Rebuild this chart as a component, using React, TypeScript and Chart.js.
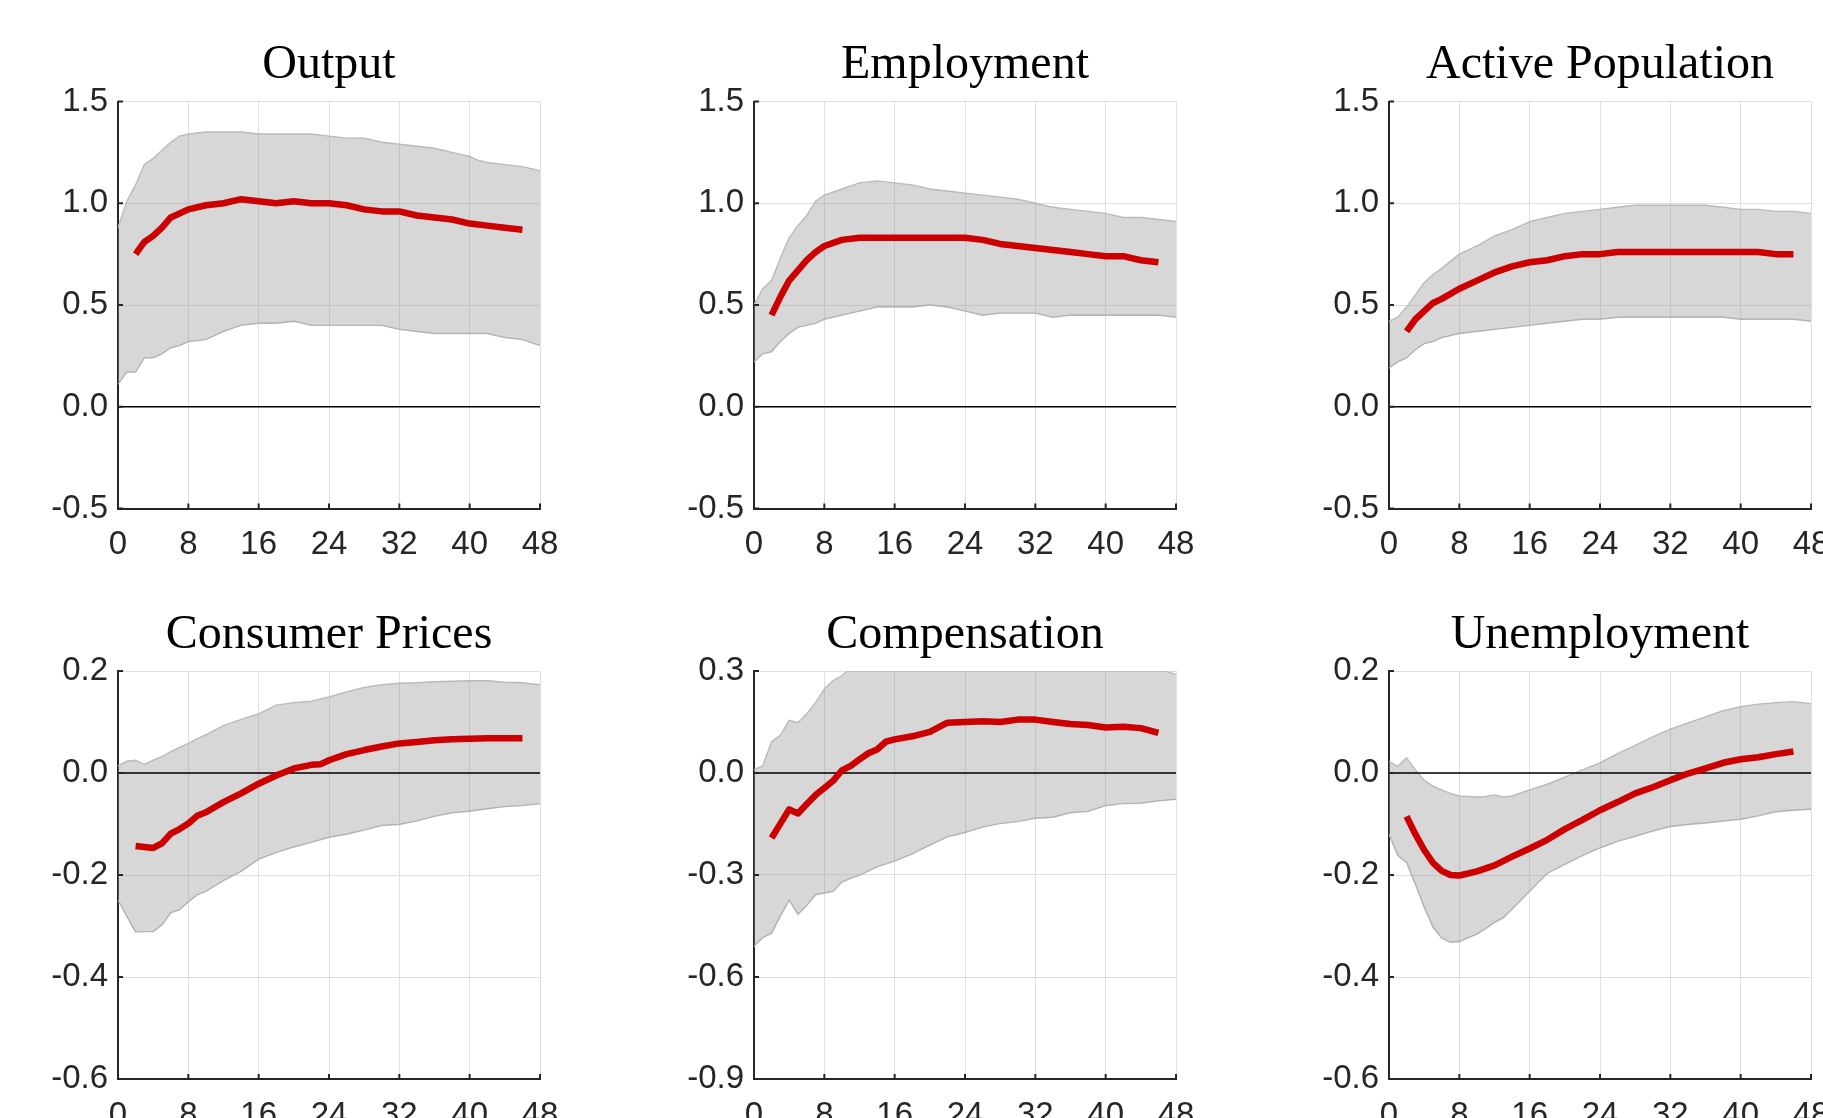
import React, { useEffect, useRef } from "react";
import { Chart, registerables } from "chart.js";

Chart.register(...registerables);

// ---------- Data ----------
const titles = ["Output", "Employment", "Active Population", "Consumer Prices", "Compensation", "Unemployment"];

const outputBandX = [0, 1, 2, 3, 4, 5, 6, 7, 8, 10, 12, 14, 16, 18, 20, 22, 24, 26, 28, 30, 32, 34, 36, 38, 40, 41, 42, 44, 46, 48];
const outputUpper = [0.88, 1.01, 1.09, 1.19, 1.22, 1.26, 1.30, 1.33, 1.34, 1.35, 1.35, 1.35, 1.34, 1.34, 1.34, 1.34, 1.33, 1.32, 1.32, 1.30, 1.29, 1.28, 1.27, 1.25, 1.23, 1.21, 1.20, 1.19, 1.18, 1.16];
const outputLower = [0.11, 0.17, 0.17, 0.24, 0.24, 0.26, 0.29, 0.30, 0.32, 0.33, 0.37, 0.40, 0.41, 0.41, 0.42, 0.40, 0.40, 0.40, 0.40, 0.40, 0.38, 0.37, 0.36, 0.36, 0.36, 0.36, 0.36, 0.34, 0.33, 0.30];
const outputLineX = [2, 3, 4, 5, 6, 8, 10, 12, 14, 16, 18, 20, 22, 24, 26, 28, 30, 32, 34, 36, 38, 40, 42, 44, 46];
const outputLine = [0.75, 0.81, 0.84, 0.88, 0.93, 0.97, 0.99, 1.00, 1.02, 1.01, 1.00, 1.01, 1.00, 1.00, 0.99, 0.97, 0.96, 0.96, 0.94, 0.93, 0.92, 0.90, 0.89, 0.88, 0.87];

const employmentBandX = [0, 1, 2, 3, 4, 5, 6, 7, 8, 10, 12, 14, 16, 18, 20, 22, 24, 26, 28, 30, 32, 34, 36, 38, 40, 42, 44, 46, 48];
const employmentUpper = [0.50, 0.58, 0.62, 0.73, 0.83, 0.89, 0.94, 1.01, 1.04, 1.07, 1.10, 1.11, 1.10, 1.09, 1.07, 1.06, 1.05, 1.04, 1.03, 1.02, 1.00, 0.98, 0.97, 0.96, 0.95, 0.93, 0.93, 0.92, 0.91];
const employmentLower = [0.22, 0.26, 0.27, 0.32, 0.36, 0.39, 0.40, 0.41, 0.43, 0.45, 0.47, 0.49, 0.49, 0.49, 0.50, 0.49, 0.47, 0.45, 0.46, 0.46, 0.46, 0.44, 0.45, 0.45, 0.45, 0.45, 0.45, 0.45, 0.44];
const employmentLineX = [2, 3, 4, 5, 6, 7, 8, 10, 12, 14, 16, 18, 20, 22, 24, 26, 28, 30, 32, 34, 36, 38, 40, 42, 44, 46];
const employmentLine = [0.45, 0.54, 0.62, 0.67, 0.72, 0.76, 0.79, 0.82, 0.83, 0.83, 0.83, 0.83, 0.83, 0.83, 0.83, 0.82, 0.80, 0.79, 0.78, 0.77, 0.76, 0.75, 0.74, 0.74, 0.72, 0.71];

const activeBandX = [0, 1, 2, 3, 4, 5, 6, 8, 10, 12, 14, 16, 18, 20, 22, 24, 26, 28, 30, 32, 34, 36, 38, 40, 42, 44, 46, 48];
const activeUpper = [0.42, 0.44, 0.49, 0.55, 0.61, 0.65, 0.68, 0.75, 0.79, 0.84, 0.87, 0.91, 0.93, 0.95, 0.96, 0.97, 0.98, 0.99, 0.99, 0.99, 0.99, 0.99, 0.98, 0.97, 0.97, 0.96, 0.96, 0.95];
const activeLower = [0.19, 0.22, 0.24, 0.28, 0.31, 0.32, 0.34, 0.36, 0.37, 0.38, 0.39, 0.40, 0.41, 0.42, 0.43, 0.43, 0.44, 0.44, 0.44, 0.44, 0.44, 0.44, 0.44, 0.43, 0.43, 0.43, 0.43, 0.42];
const activeLineX = [2, 3, 4, 5, 6, 8, 10, 12, 14, 16, 18, 20, 22, 24, 26, 28, 30, 32, 34, 36, 38, 40, 42, 44, 46];
const activeLine = [0.37, 0.43, 0.47, 0.51, 0.53, 0.58, 0.62, 0.66, 0.69, 0.71, 0.72, 0.74, 0.75, 0.75, 0.76, 0.76, 0.76, 0.76, 0.76, 0.76, 0.76, 0.76, 0.76, 0.75, 0.75];

const pricesBandX = [0, 1, 2, 3, 4, 5, 6, 7, 8, 9, 10, 12, 14, 16, 18, 20, 22, 24, 26, 28, 30, 32, 34, 36, 38, 40, 42, 44, 46, 48];
const pricesUpper = [0.014, 0.023, 0.025, 0.017, 0.025, 0.032, 0.042, 0.050, 0.058, 0.067, 0.075, 0.093, 0.105, 0.116, 0.133, 0.138, 0.141, 0.149, 0.159, 0.168, 0.173, 0.176, 0.177, 0.179, 0.180, 0.181, 0.181, 0.178, 0.177, 0.173];
const pricesLower = [-0.249, -0.281, -0.312, -0.311, -0.311, -0.298, -0.274, -0.268, -0.253, -0.239, -0.232, -0.211, -0.193, -0.169, -0.156, -0.145, -0.136, -0.126, -0.120, -0.112, -0.103, -0.101, -0.094, -0.085, -0.078, -0.075, -0.070, -0.066, -0.064, -0.060];
const pricesLineX = [2, 3, 4, 5, 6, 7, 8, 9, 10, 12, 14, 16, 18, 20, 22, 23, 24, 26, 28, 30, 32, 34, 36, 38, 40, 42, 44, 46];
const pricesLine = [-0.143, -0.145, -0.147, -0.138, -0.119, -0.110, -0.099, -0.084, -0.077, -0.057, -0.040, -0.021, -0.005, 0.009, 0.016, 0.017, 0.025, 0.037, 0.045, 0.052, 0.058, 0.061, 0.064, 0.066, 0.067, 0.068, 0.068, 0.068];

const compBandX = [0, 1, 2, 3, 4, 5, 6, 7, 8, 9, 10, 11, 12, 14, 16, 18, 20, 22, 24, 26, 28, 30, 32, 34, 36, 38, 40, 42, 44, 46, 48];
const compUpper = [0.010, 0.021, 0.092, 0.111, 0.155, 0.148, 0.174, 0.207, 0.247, 0.272, 0.286, 0.31, 0.33, 0.36, 0.38, 0.40, 0.41, 0.41, 0.41, 0.40, 0.40, 0.39, 0.38, 0.37, 0.36, 0.35, 0.34, 0.33, 0.32, 0.305, 0.29];
const compLower = [-0.510, -0.484, -0.471, -0.421, -0.374, -0.416, -0.390, -0.358, -0.353, -0.348, -0.321, -0.310, -0.301, -0.276, -0.259, -0.238, -0.212, -0.188, -0.175, -0.159, -0.149, -0.143, -0.133, -0.130, -0.117, -0.113, -0.096, -0.090, -0.089, -0.082, -0.077];
const compLineX = [2, 3, 4, 5, 6, 7, 8, 9, 10, 11, 12, 13, 14, 15, 16, 18, 20, 22, 24, 26, 28, 30, 32, 34, 36, 38, 40, 42, 44, 46];
const compLine = [-0.191, -0.149, -0.107, -0.119, -0.091, -0.065, -0.044, -0.023, 0.008, 0.021, 0.040, 0.058, 0.069, 0.092, 0.099, 0.108, 0.121, 0.148, 0.150, 0.152, 0.150, 0.157, 0.157, 0.150, 0.144, 0.141, 0.134, 0.136, 0.132, 0.118];

const unempBandX = [0, 1, 2, 3, 4, 5, 6, 7, 8, 9, 10, 11, 12, 13, 14, 16, 18, 20, 22, 24, 26, 28, 30, 32, 34, 36, 38, 40, 42, 44, 46, 48];
const unempUpper = [0.023, 0.013, 0.030, 0.006, -0.014, -0.026, -0.033, -0.040, -0.045, -0.046, -0.047, -0.046, -0.043, -0.047, -0.045, -0.033, -0.022, -0.008, 0.006, 0.020, 0.038, 0.054, 0.071, 0.086, 0.098, 0.110, 0.122, 0.130, 0.135, 0.138, 0.140, 0.136];
const unempLower = [-0.120, -0.162, -0.176, -0.218, -0.263, -0.302, -0.324, -0.332, -0.331, -0.323, -0.316, -0.305, -0.293, -0.284, -0.267, -0.232, -0.197, -0.179, -0.162, -0.147, -0.134, -0.124, -0.114, -0.105, -0.101, -0.098, -0.094, -0.091, -0.084, -0.076, -0.073, -0.071];
const unempLineX = [2, 3, 4, 5, 6, 7, 8, 9, 10, 12, 14, 16, 18, 20, 22, 24, 26, 28, 30, 32, 34, 36, 38, 40, 42, 44, 46];
const unempLine = [-0.085, -0.120, -0.151, -0.176, -0.192, -0.200, -0.201, -0.197, -0.193, -0.181, -0.164, -0.148, -0.131, -0.110, -0.092, -0.073, -0.057, -0.040, -0.028, -0.014, -0.001, 0.009, 0.020, 0.027, 0.031, 0.037, 0.042];

const topRowYRange = [-0.5, 1.5, 0.5];
const pricesYRange = [-0.6, 0.2, 0.2];
const compYRange = [-0.9, 0.3, 0.3];
const unempYRange = [-0.6, 0.2, 0.2];
const xRange = [0, 48, 8];

// ---------- Layout (styles only) ----------
const COL_LEFT = [0, 636, 1271];
const Y_AXIS_W = 118;
const PLOT_W = 422;
const CANVAS_W = 580;
const ROWS = [
  { top: 0, height: 560, padTop: 101.5, plotH: 407 },
  { top: 560, height: 558, padTop: 111, plotH: 408 },
];

const TICK_FONT = '"Liberation Sans", Arial, Helvetica, sans-serif';
const TITLE_FONT = '"Liberation Serif", "Times New Roman", serif';
const AXIS_COLOR = "#262626";

type PanelDef = {
  title: string;
  bandX: number[];
  upper: number[];
  lower: number[];
  lineX: number[];
  line: number[];
  yRange: number[];
  col: number;
  row: number;
};

const panels: PanelDef[] = [
  { title: titles[0], bandX: outputBandX, upper: outputUpper, lower: outputLower, lineX: outputLineX, line: outputLine, yRange: topRowYRange, col: 0, row: 0 },
  { title: titles[1], bandX: employmentBandX, upper: employmentUpper, lower: employmentLower, lineX: employmentLineX, line: employmentLine, yRange: topRowYRange, col: 1, row: 0 },
  { title: titles[2], bandX: activeBandX, upper: activeUpper, lower: activeLower, lineX: activeLineX, line: activeLine, yRange: topRowYRange, col: 2, row: 0 },
  { title: titles[3], bandX: pricesBandX, upper: pricesUpper, lower: pricesLower, lineX: pricesLineX, line: pricesLine, yRange: pricesYRange, col: 0, row: 1 },
  { title: titles[4], bandX: compBandX, upper: compUpper, lower: compLower, lineX: compLineX, line: compLine, yRange: compYRange, col: 1, row: 1 },
  { title: titles[5], bandX: unempBandX, upper: unempUpper, lower: unempLower, lineX: unempLineX, line: unempLine, yRange: unempYRange, col: 2, row: 1 },
];

const toPts = (xs: number[], ys: number[]) => xs.map((x, i) => ({ x, y: ys[i] }));

function Panel({ def }: { def: PanelDef }) {
  const ref = useRef<HTMLCanvasElement | null>(null);
  const row = ROWS[def.row];
  const xAxisH = row.height - row.padTop - row.plotH;

  useEffect(() => {
    if (!ref.current) return;
    const titlePlugin = {
      id: "panelTitle",
      afterDraw(chart: any) {
        const { ctx, chartArea } = chart;
        ctx.save();
        ctx.fillStyle = "#000";
        ctx.font = `48px ${TITLE_FONT}`;
        ctx.textAlign = "center";
        ctx.textBaseline = "alphabetic";
        ctx.fillText(def.title, (chartArea.left + chartArea.right) / 2, chartArea.top - 23.5);
        ctx.restore();
      },
    };
    const inwardTicks = {
      id: "inwardTicks",
      afterDraw(chart: any) {
        const { ctx, chartArea, scales } = chart;
        ctx.save();
        ctx.strokeStyle = AXIS_COLOR;
        ctx.lineWidth = 2;
        ctx.beginPath();
        scales.x.ticks.forEach((t: any) => {
          const px = scales.x.getPixelForValue(t.value);
          ctx.moveTo(px, chartArea.bottom);
          ctx.lineTo(px, chartArea.bottom - 5);
        });
        scales.y.ticks.forEach((t: any) => {
          const py = scales.y.getPixelForValue(t.value);
          ctx.moveTo(chartArea.left, py);
          ctx.lineTo(chartArea.left + 5, py);
        });
        ctx.stroke();
        ctx.restore();
      },
    };

    const chart = new Chart(ref.current, {
      type: "line",
      data: {
        datasets: [
          {
            data: toPts(def.lineX, def.line),
            borderColor: "#cc0000",
            borderWidth: 6.5,
            pointRadius: 0,
            fill: false,
            tension: 0,
            borderJoinStyle: "round",
          },
          {
            data: [
              { x: xRange[0], y: 0 },
              { x: xRange[1], y: 0 },
            ],
            borderColor: "#000000",
            borderWidth: 1.6,
            pointRadius: 0,
            fill: false,
          },
          {
            data: toPts(def.bandX, def.upper),
            borderColor: "#bababa",
            borderWidth: 1.4,
            pointRadius: 0,
            backgroundColor: "rgba(150,150,150,0.38)",
            fill: "+1",
            tension: 0,
          },
          {
            data: toPts(def.bandX, def.lower),
            borderColor: "#bababa",
            borderWidth: 1.4,
            pointRadius: 0,
            fill: false,
            tension: 0,
          },
        ],
      } as any,
      options: {
        responsive: false,
        animation: false,
        events: [],
        layout: { padding: { top: row.padTop, right: CANVAS_W - Y_AXIS_W - PLOT_W, left: 0, bottom: 0 } },
        plugins: {
          legend: { display: false },
          tooltip: { enabled: false },
          title: { display: false },
        },
        scales: {
          x: {
            type: "linear",
            min: xRange[0],
            max: xRange[1],
            ticks: {
              stepSize: xRange[2],
              autoSkip: false,
              maxRotation: 0,
              padding: 17,
              color: AXIS_COLOR,
              font: { family: TICK_FONT, size: 33 },
            },
            grid: { color: "#dfdfdf", lineWidth: 1, drawTicks: false },
            border: { color: AXIS_COLOR, width: 2 },
            afterFit: (s: any) => {
              s.height = xAxisH;
              s.paddingLeft = 0;
              s.paddingRight = 0;
            },
          },
          y: {
            type: "linear",
            min: def.yRange[0],
            max: def.yRange[1],
            ticks: {
              stepSize: def.yRange[2],
              autoSkip: false,
              padding: 10,
              color: AXIS_COLOR,
              font: { family: TICK_FONT, size: 33 },
              callback: (v: any) => Number(v).toFixed(1),
            },
            grid: { color: "#dfdfdf", lineWidth: 1, drawTicks: false },
            border: { color: AXIS_COLOR, width: 2 },
            afterFit: (s: any) => {
              s.width = Y_AXIS_W;
              s.paddingTop = 0;
              s.paddingBottom = 0;
            },
          },
        },
      } as any,
      plugins: [titlePlugin, inwardTicks],
    });
    return () => chart.destroy();
  }, []);

  return (
    <canvas
      ref={ref}
      width={CANVAS_W}
      height={row.height}
      style={{
        position: "absolute",
        left: COL_LEFT[def.col],
        top: row.top,
        width: CANVAS_W,
        height: row.height,
      }}
    />
  );
}

export default function App() {
  return (
    <div
      style={{
        position: "fixed",
        left: 0,
        top: 0,
        width: 1823,
        height: 1118,
        overflow: "hidden",
        background: "#ffffff",
      }}
    >
      {panels.map((p, i) => (
        <Panel key={i} def={p} />
      ))}
    </div>
  );
}
